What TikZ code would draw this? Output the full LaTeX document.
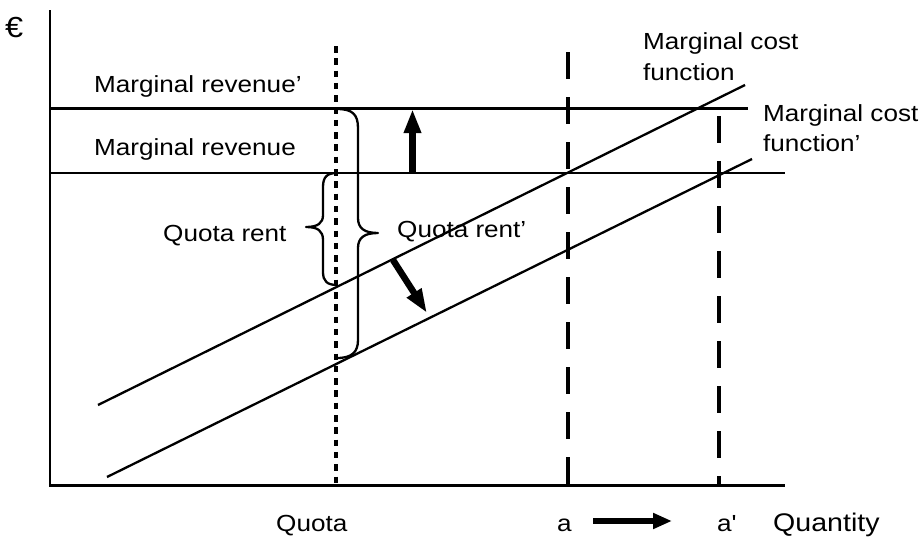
\documentclass[tikz,border=0pt]{standalone}
\usepackage{fontspec}
\newfontfamily\arial{Liberation Sans}[FakeStretch=1.12]
\usetikzlibrary{arrows.meta}
\begin{document}
\begin{tikzpicture}[x=1pt,y=-1pt,
  lbl/.style={anchor=base west,inner sep=0pt,font=\arial\fontsize{23.3}{31}\selectfont},
  bigl/.style={anchor=base west,inner sep=0pt,font=\arial\fontsize{25.5}{31}\selectfont},
  thin/.style={line width=2.3pt},
  dotv/.style={line width=3.6pt,dash pattern=on 6.5pt off 5.8pt},
  dashv/.style={line width=4pt,dash pattern=on 26.7pt off 18.3pt},
  fat/.style={line width=6.5pt,-{Triangle[width=16pt,length=24pt]}},
  brace/.style={line width=2.3pt,line join=round}]
\useasboundingbox (0,0) rectangle (924,536);
% axes
\coordinate (ytop) at (50,10);
\coordinate (orig) at (50,485.5);
\coordinate (xend) at (785,485.5);
\draw[thin,line join=miter] (ytop) -- (orig) -- (xend);
% revenue lines
\coordinate (mr1a) at (50,108.5); \coordinate (mr1b) at (748,108.5);
\coordinate (mr0a) at (50,173); \coordinate (mr0b) at (785,173);
\draw[thin] (mr1a) -- (mr1b);
\draw[thin] (mr0a) -- (mr0b);
% marginal cost lines
\coordinate (mc0a) at (98,405); \coordinate (mc0b) at (745,85);
\coordinate (mc1a) at (107,477); \coordinate (mc1b) at (752,159);
\draw[thin] (mc0a) -- (mc0b);
\draw[thin] (mc1a) -- (mc1b);
% vertical lines
\coordinate (qt) at (336,46); \coordinate (qb) at (336,485);
\draw[dotv] (qt) -- (qb);
\coordinate (at) at (567.5,52); \coordinate (ab) at (567.5,485);
\draw[dashv] (at) -- (ab);
\coordinate (apt) at (719,116); \coordinate (apb) at (719,485);
\draw[dashv] (apt) -- (apb);
% braces
\draw[brace] (337,109) .. controls (352,109) and (358,114) .. (358,128) -- (358,218)
  .. controls (358,228) and (364,233) .. (378,233)
  .. controls (364,233) and (358,238) .. (358,248) -- (358,340)
  .. controls (358,352) and (352,358) .. (337,358);
\draw[brace] (337,173) .. controls (327,173) and (323,177) .. (323,187) -- (323,215)
  .. controls (323,223) and (318,227) .. (306,227)
  .. controls (318,227) and (323,231) .. (323,240) -- (323,272)
  .. controls (323,281) and (327,285) .. (337,285);
% arrows
\coordinate (upa) at (412.5,173); \coordinate (upb) at (412.5,109);
\draw[fat] (upa) -- (upb);
\coordinate (dga) at (393,260); \coordinate (dgb) at (427,313);
\draw[fat] (dga) -- (dgb);
\coordinate (hra) at (593,521); \coordinate (hrb) at (672,521);
\draw[line width=6pt,-{Triangle[width=15pt,length=19pt]}] (hra) -- (hrb);
% labels
\node[anchor=base west,inner sep=0pt,font=\arial\fontsize{29}{31}\selectfont] (euro) at (5,37.5) {€};
\node[lbl] (mrp) at (94,92) {Marginal revenue’};
\node[lbl] (mr) at (94,155) {Marginal revenue};
\node[lbl] (qr) at (163,241) {Quota rent};
\node[lbl] (qrp) at (397,237) {Quota rent’};
\node[lbl] (mc1) at (643,49) {Marginal cost};
\node[lbl] (mc2) at (643,80) {function};
\node[lbl] (mcp1) at (763,121.7) {Marginal cost};
\node[lbl] (mcp2) at (763,151.7) {function’};
\node[lbl] (quota) at (276,531) {Quota};
\node[lbl] (la) at (557,531) {a};
\node[lbl] (lap) at (717,531) {a\char39};
\node[bigl] (qty) at (773,531) {Quantity};
\end{tikzpicture}
\end{document}
